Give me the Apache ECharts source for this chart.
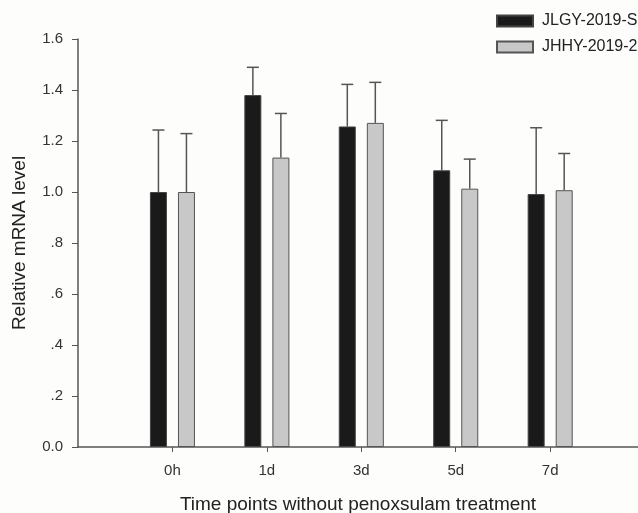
<!DOCTYPE html>
<html>
<head>
<meta charset="utf-8">
<script src="https://cdn.jsdelivr.net/npm/echarts@6/dist/echarts.min.js"></script>
<style>
  html, body { margin: 0; padding: 0; background: #fdfdfb; }
  #main { width: 638px; height: 513px; }
</style>
</head>
<body>
<div id="main"></div>
<script>
const categories = ['0h', '1d', '3d', '5d', '7d'];
const jlgyMean = [1.0, 1.38, 1.257, 1.085, 0.992];
const jlgySd = [0.243, 0.109, 0.165, 0.196, 0.26];
const jhhyMean = [1.0, 1.135, 1.271, 1.013, 1.007];
const jhhySd = [0.229, 0.173, 0.159, 0.116, 0.144];
const yTicks = ['0.0', '.2', '.4', '.6', '.8', '1.0', '1.2', '1.4', '1.6'];

const chart = echarts.init(document.getElementById('main'));
const xs = categories.map((c, i) => i + 1);
const axisColor = '#555';

// 误差线，offset 为相对类目中心的像素偏移
function errorBar(name, mean, sd, offset) {
  return {
    name: name,
    type: 'custom',
    z: 1,
    data: xs.map((x, i) => [x, mean[i], sd[i]]),
    renderItem: function (params, api) {
      const top = api.coord([api.value(0), api.value(1) + api.value(2)]);
      const base = api.coord([api.value(0), api.value(1)]);
      const x = top[0] + offset;
      const style = { stroke: axisColor, lineWidth: 1.5 };
      return {
        type: 'group',
        children: [
          { type: 'line', shape: { x1: x, y1: base[1], x2: x, y2: top[1] }, style: style },
          { type: 'line', shape: { x1: x - 6, y1: top[1], x2: x + 6, y2: top[1] }, style: style }
        ]
      };
    }
  };
}

const option = {
  backgroundColor: '#fdfdfb',
  animation: false,
  textStyle: { fontFamily: 'Liberation Sans, Arial, sans-serif' },
  legend: {
    orient: 'vertical',
    left: 496,
    top: 13,
    padding: 0,
    itemWidth: 36,
    itemHeight: 11,
    itemGap: 10,
    textStyle: { fontSize: 16, color: '#222', padding: [0, 0, 0, 4] },
    data: [
      { name: 'JLGY-2019-S', icon: 'rect' },
      { name: 'JHHY-2019-2', icon: 'rect' }
    ]
  },
  grid: { left: 78, right: 0, top: 39, bottom: 66, outerBoundsMode: 'none' },
  xAxis: {
    type: 'value',
    min: 0,
    max: 5.93,
    interval: 1,
    name: 'Time points without penoxsulam treatment',
    nameLocation: 'middle',
    nameGap: 48,
    nameTextStyle: { fontSize: 19, color: '#222' },
    splitLine: { show: false },
    axisLine: { lineStyle: { color: axisColor, width: 1.5 } },
    axisTick: { show: true, length: 5, lineStyle: { color: axisColor }, customValues: xs },
    axisLabel: {
      fontSize: 15, color: '#333', margin: 16,
      customValues: xs,
      formatter: v => categories[Math.round(v) - 1] || ''
    }
  },
  yAxis: {
    type: 'value',
    min: 0,
    max: 1.6,
    interval: 0.2,
    name: 'Relative mRNA level',
    nameLocation: 'middle',
    nameGap: 49,
    nameTextStyle: { fontSize: 19, color: '#222' },
    splitLine: { show: false },
    axisLine: { show: true, lineStyle: { color: axisColor, width: 1.5 } },
    axisTick: { show: true, length: 6, lineStyle: { color: axisColor } },
    axisLabel: {
      fontSize: 15, color: '#333', margin: 15,
      formatter: v => yTicks[Math.round(v / 0.2)]
    }
  },
  series: [
    {
      name: 'JLGY-2019-S',
      type: 'bar',
      barWidth: 17,
      barGap: '65%',
      z: 2,
      itemStyle: { color: '#1a1a1a', borderColor: '#444', borderWidth: 1 },
      data: xs.map((x, i) => [x, jlgyMean[i]])
    },
    {
      name: 'JHHY-2019-2',
      type: 'bar',
      barWidth: 17,
      barGap: '65%',
      z: 2,
      itemStyle: { color: '#c8c8c8', borderColor: '#555', borderWidth: 1 },
      data: xs.map((x, i) => [x, jhhyMean[i]])
    },
    errorBar('JLGY-2019-S', jlgyMean, jlgySd, -14),
    errorBar('JHHY-2019-2', jhhyMean, jhhySd, 14)
  ]
};
chart.setOption(option);
</script>
</body>
</html>
